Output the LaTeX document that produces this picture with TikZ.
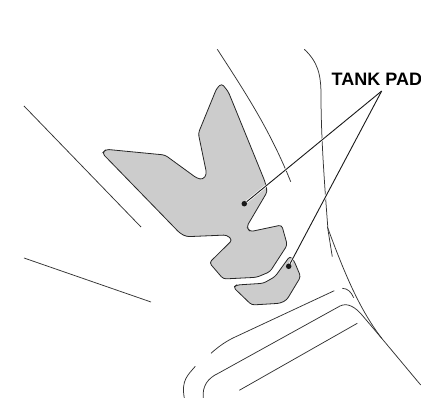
\documentclass[tikz,border=0pt]{standalone}
\usepackage{fontspec}
\setmainfont{Liberation Sans}
\begin{document}
\begin{tikzpicture}[x=1pt,y=-1pt]
\tikzstyle{part}=[line width=0.75pt,color=black!80]
\tikzstyle{pad}=[draw=black!85,fill=black!20,line width=0.8pt]
\tikzstyle{dot}=[circle,fill=black!90,inner sep=0pt,minimum size=5.5pt]
\tikzstyle{halo}=[white,line width=2.4pt]
\tikzstyle{leader}=[black!90,line width=0.9pt]
\useasboundingbox (0,0) rectangle (421,398);
\clip (0,0) rectangle (421,398);
\draw[pad,rounded corners=3pt] (221.7,83.5) -- (216.7,88.3) -- (198.3,133.3) -- (206.7,174)
  -- (203,179.5) -- (197,178.3) -- (165,155) -- (106,149.3) -- (102.3,153.3) -- (180,233.3)
  -- (186.7,236.7) -- (226.7,235) -- (232.3,240) -- (209.3,262.7) -- (223.3,279)
  -- (256.7,277.3) -- (270,271.7) -- (287.3,245) -- (281.7,225) -- (250,231.7)
  -- (246.7,226.7) -- (267.3,191.7) -- (265,181.7) -- (228.3,91.7) -- cycle;
\draw[pad,rounded corners=3pt] (233.3,287.3) -- (236.7,285) -- (263.3,283.3) -- (275,276.7)
  -- (290,256) -- (294,260.7) -- (300.7,276.7) -- (286.7,300) -- (280,303.3)
  -- (251.7,305) -- cycle;
\draw[part] (24,106) -- (141,227);
\draw[part] (24,258) -- (151,302);
\draw[part] (217.3,49.3) .. controls (245,92) and (270,130) .. (290.7,181.7);
\draw[part] (304.3,49.3) .. controls (318,62) and (321,75) .. (321,95)
  .. controls (321,140) and (325,190) .. (328,230) -- (332.3,256.7);
\draw[part] (327.3,226.7) .. controls (345,275) and (360,310) .. (381.7,338.3) -- (420.7,385);
\draw[part] (334.3,290.7) -- (233,338) .. controls (225,342) and (218,347) .. (211,353.3);
\draw[part] (342.3,288.3) .. controls (348,288.5) and (351,292) .. (353.7,297.7);
\draw[part] (203.3,398) .. controls (202,386) and (208,378) .. (218.3,373.3) -- (340,306)
  .. controls (348,302) and (356,308) .. (362,315) -- (381.7,338.3);
\draw[part] (239.3,390.3) -- (357.3,323.3);
\draw[part] (195.3,366.3) .. controls (188,375) and (181,380) .. (184.3,398);
\node[anchor=base west,inner sep=0pt,font=\fontsize{18}{18}\selectfont\bfseries] (tank) at (331.5,85.7) {TANK PAD};
\coordinate (apex) at (381.7,91);
\node[dot] (dotA) at (244.3,203.7) {};
\node[dot] (dotB) at (288.7,266.3) {};
\draw[halo] (apex) -- (dotA);
\draw[halo] (apex) -- (dotB);
\draw[leader] (apex) -- (dotA);
\draw[leader] (apex) -- (dotB);
\end{tikzpicture}
\end{document}
